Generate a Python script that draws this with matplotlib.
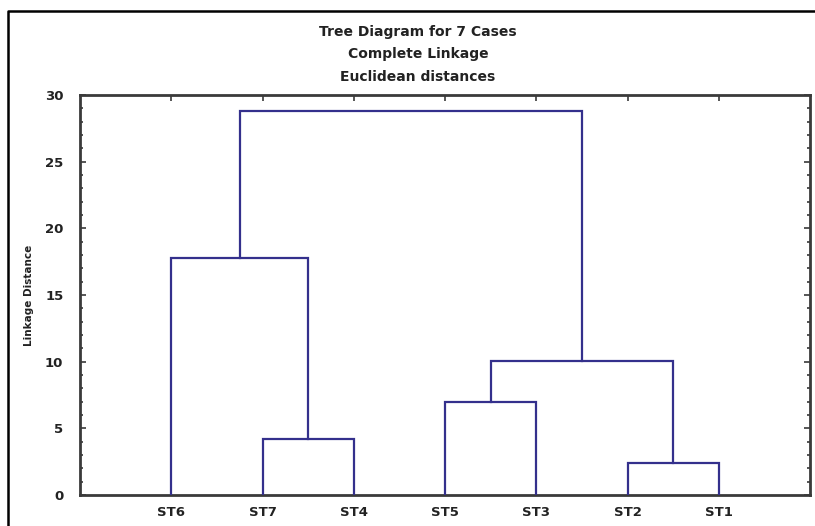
import numpy as np
import matplotlib.pyplot as plt
from matplotlib.lines import Line2D
from matplotlib.ticker import MultipleLocator

# leaves in plotting order, left to right
leaves = ['ST6', 'ST7', 'ST4', 'ST5', 'ST3', 'ST2', 'ST1']
# merge steps: (left member, right member, linkage distance)
merges = [
    ('ST2', 'ST1', 2.4),
    ('ST7', 'ST4', 4.2),
    ('ST5', 'ST3', 7.0),
    ('ST5+ST3', 'ST2+ST1', 10.05),
    ('ST6', 'ST7+ST4', 17.75),
    ('ST6+ST7+ST4', 'ST5+ST3+ST2+ST1', 28.8),
]
yticks = [0, 5, 10, 15, 20, 25, 30]

LINE = '#34308c'
AXC = '#3a3a3a'
FONT = 'DejaVu Sans'

W, H = 815, 526
fig = plt.figure(figsize=(W / 100, H / 100), dpi=100)
ax = fig.add_axes([80 / W, 1 - 495 / H, 730 / W, 400 / H])

# x position and height of each node
pos = {name: (i + 1, 0.0) for i, name in enumerate(leaves)}
for a, b, h in merges:
    xa, ha = pos[a]
    xb, hb = pos[b]
    ax.plot([xa, xa, xb, xb], [ha, h, h, hb], color=LINE, lw=1.6,
            solid_joinstyle='miter', zorder=3)
    pos[a + '+' + b] = ((xa + xb) / 2, h)

ax.set_xlim(0, 8)
ax.set_ylim(0, 30)
ax.set_xticks(range(1, len(leaves) + 1))
ax.set_xticklabels(leaves)
ax.set_yticks(yticks)
ax.yaxis.set_minor_locator(MultipleLocator(1))
ax.tick_params(axis='both', which='both', direction='in', color=AXC,
               top=True, right=True, labelsize=9.5, width=1.2)
ax.tick_params(axis='both', which='major', length=4)
ax.tick_params(axis='y', which='minor', length=2)
ax.tick_params(axis='x', pad=8)
ax.tick_params(axis='y', pad=12)
for lab in ax.get_xticklabels() + ax.get_yticklabels():
    lab.set_fontweight('bold')
    lab.set_family(FONT)
    lab.set_color('#222222')
for sp in ax.spines.values():
    sp.set_color(AXC)
    sp.set_linewidth(2)

ax.set_ylabel('Linkage Distance', fontsize=7.5, fontweight='bold',
              family=FONT, color='#222222', labelpad=8)

titles = ['Tree Diagram for 7 Cases', 'Complete Linkage', 'Euclidean distances']
for t, yy in zip(titles, [32, 54, 77]):
    fig.text(418 / W, 1 - yy / H, t, ha='center', va='center', fontsize=10,
             fontweight='bold', family=FONT, color='#222222')

# outer frame
fig.add_artist(Line2D([8 / W, 8 / W, 1.0], [0.0, 1 - 11 / H, 1 - 11 / H],
                      transform=fig.transFigure, color='black', lw=1.8))

fig.savefig('out.png', dpi=100)
